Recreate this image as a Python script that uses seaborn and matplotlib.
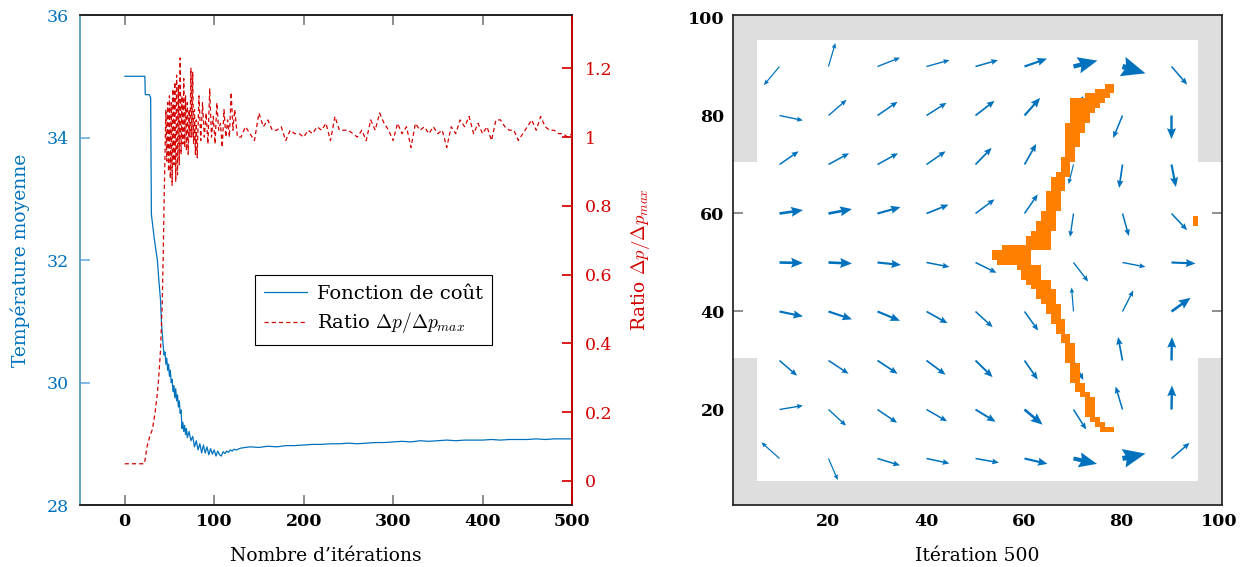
import matplotlib
matplotlib.use("Agg")
import numpy as np
import matplotlib.pyplot as plt
import seaborn as sns
from matplotlib.colors import ListedColormap

# ---------------- left panel: cost and ratio vs iterations
cost_iter = [0, 22.5, 23, 27.5, 29, 29.8, 31, 33, 35, 36.5, 38, 40, 41, 42, 43, 44, 45, 46, 47, 48,
             49, 50, 51, 52, 53, 54, 55, 56, 57, 58, 59, 60, 61, 62, 63, 64, 65, 66, 67, 68,
             69, 70, 72, 74, 76, 78, 80, 82, 84, 86, 88, 90, 92, 94, 96, 98, 100, 102, 104, 106,
             108, 110, 112, 114, 116, 118, 120, 122, 125, 128, 130, 140, 150, 160, 170, 180, 190, 200,
             210, 220, 230, 240, 250, 260, 270, 280, 290, 300, 310, 320, 330, 340, 350, 360, 370, 380,
             390, 400, 410, 420, 430, 440, 450, 460, 470, 480, 490, 500]
cost = [35.0, 35.0, 34.7, 34.7, 34.65, 32.75, 32.6, 32.35, 32.15, 32.0, 31.7, 31.35, 31.0, 30.8, 30.6,
        30.45, 30.5, 30.3, 30.4, 30.2, 30.3, 30.1, 30.2, 30.0, 30.05, 29.85, 29.95, 29.75, 29.9, 29.7,
        29.8, 29.6, 29.7, 29.5, 29.55, 29.25, 29.35, 29.2, 29.3, 29.15, 29.25, 29.1, 29.2, 29.05, 29.12,
        28.95, 29.05, 28.9, 29.0, 28.85, 28.98, 28.85, 28.95, 28.82, 28.92, 28.83, 28.9, 28.8, 28.88,
        28.82, 28.8, 28.87, 28.84, 28.88, 28.86, 28.9, 28.88, 28.91, 28.9, 28.92, 28.93, 28.95, 28.94,
        28.96, 28.95, 28.97, 28.97, 28.98, 28.99, 28.99, 29.0, 29.0, 29.01, 29.0, 29.01, 29.02, 29.02,
        29.03, 29.04, 29.03, 29.05, 29.04, 29.05, 29.06, 29.05, 29.06, 29.06, 29.06, 29.07, 29.06, 29.07,
        29.07, 29.07, 29.08, 29.07, 29.08, 29.08, 29.08]

ratio_iter = [0, 22, 25, 28, 31, 34, 36.5, 38, 40, 42, 43, 44, 45, 46, 47, 48, 49, 50, 51, 52, 53, 54,
              55, 56, 57, 58, 59, 60, 61, 62, 63, 64, 65, 66, 67, 68, 69, 70, 71, 72, 73, 74, 75, 76,
              77, 78, 79, 80, 81, 83, 85, 87, 89, 91, 93, 95, 97, 99, 101, 103, 105, 107, 109, 111,
              113, 115, 117, 119, 121, 123, 126, 130, 135, 140, 145, 150, 155, 160, 165, 170, 175, 180,
              185, 190, 195, 200, 205, 210, 215, 220, 225, 230, 235, 240, 245, 250, 255, 260, 265, 270,
              275, 280, 285, 290, 295, 300, 305, 310, 315, 320, 325, 330, 335, 340, 345, 350, 355, 360,
              365, 370, 375, 380, 385, 390, 395, 400, 405, 410, 415, 420, 425, 430, 435, 440, 445, 450,
              455, 460, 465, 470, 475, 480, 485, 490, 495, 500]
ratio = [0.05, 0.05, 0.10, 0.13, 0.15, 0.20, 0.255, 0.30, 0.38, 0.52, 0.65, 0.81, 0.95, 1.08, 0.93,
         1.10, 0.90, 1.12, 0.88, 1.10, 0.86, 1.14, 0.92, 1.16, 0.87, 1.18, 0.89, 1.15, 0.92, 1.23, 0.95,
         1.12, 0.98, 1.17, 0.97, 1.12, 0.96, 1.10, 0.95, 1.08, 1.00, 1.20, 1.00, 1.19, 0.98, 1.08, 0.95,
         1.05, 0.94, 1.12, 0.99, 1.10, 1.00, 1.07, 0.98, 1.14, 1.00, 1.06, 0.98, 1.10, 1.02, 1.04, 0.97,
         1.08, 1.00, 1.05, 1.00, 1.13, 1.02, 1.08, 1.00, 1.00, 1.03, 1.01, 0.99, 1.07, 1.03, 1.05, 1.02,
         1.02, 1.03, 0.99, 1.02, 1.01, 1.01, 1.00, 1.02, 1.01, 1.03, 1.02, 1.04, 0.99, 1.06, 1.02, 1.02,
         1.02, 1.01, 1.00, 1.02, 0.99, 1.05, 1.02, 1.07, 1.04, 1.02, 0.99, 1.04, 1.01, 1.03, 0.97, 1.04,
         1.02, 1.03, 1.01, 1.03, 1.01, 1.02, 0.97, 1.03, 1.01, 1.05, 1.03, 1.06, 1.01, 1.04, 1.01, 1.03,
         0.99, 1.05, 1.05, 1.03, 1.02, 1.02, 0.99, 1.01, 1.03, 1.05, 1.02, 1.06, 1.03, 1.02, 1.02, 1.01,
         1.01, 1.00, 1.01]

# ---------------- right panel: velocity field and interface at iteration 500
grid_x = [10, 20, 30, 40, 50, 60, 70, 80, 90]
grid_y = [10, 20, 30, 40, 50, 60, 70, 80, 90]
# rows go from y=10 (first) to y=90 (last)
U = [[-3.7, 1.9, 4.6, 4.7, 4.8, 4.7, 4.8, 4.7, 3.7],
     [4.8, 3.6, 4.0, 4.2, 4.1, 3.7, 2.6, -1.4, 0.1],
     [3.6, 4.1, 4.1, 3.9, 3.5, 2.7, 2.0, -0.9, 0.1],
     [4.8, 4.8, 4.6, 4.3, 3.5, 2.8, -0.4, 2.2, 3.9],
     [4.8, 4.8, 4.8, 4.7, 4.3, 3.0, 3.0, 4.7, 4.9],
     [4.8, 4.8, 4.7, 4.5, 3.9, 2.7, -0.7, 1.3, 3.2],
     [3.9, 4.2, 4.2, 3.9, 3.3, 2.4, -1.0, -0.7, 0.9],
     [4.8, 3.7, 4.1, 4.1, 3.9, 3.2, 2.0, -1.9, 0.0],
     [-3.2, 1.4, 4.6, 4.7, 4.6, 4.6, 4.9, 4.7, 3.2]]
V = [[3.3, -4.4, -1.4, -1.0, -0.85, -1.1, -1.1, 1.0, 3.2],
     [0.8, -3.3, -2.7, -2.4, -2.5, -3.1, -4.1, 4.7, 4.9],
     [-3.1, -2.7, -2.7, -2.9, -3.4, -3.9, -4.0, 4.8, 4.8],
     [-1.0, -1.6, -1.9, -2.4, -3.2, -3.9, 4.9, 4.3, 2.8],
     [-0.1, -0.2, -0.5, -0.9, -2.1, -2.0, -3.9, -0.9, -0.2],
     [0.7, 0.9, 1.3, 1.8, 2.9, 3.9, -4.8, -4.6, -3.4],
     [2.7, 2.3, 2.3, 2.7, 3.4, 4.2, -4.0, -4.8, -4.6],
     [-1.0, 3.2, 2.8, 2.6, 3.0, 3.6, 4.0, -4.6, -4.8],
     [-3.8, 4.8, 1.8, 1.3, 1.3, 1.6, 1.2, -1.4, -3.7]]
M = [[0.2, 0.2, 0.3, 0.3, 0.3, 0.45, 0.8, 0.95, 0.3],
     [0.25, 0.25, 0.3, 0.3, 0.4, 0.55, 0.3, 0.3, 0.5],
     [0.3, 0.3, 0.35, 0.35, 0.4, 0.35, 0.3, 0.35, 0.5],
     [0.45, 0.45, 0.45, 0.35, 0.3, 0.3, 0.2, 0.25, 0.55],
     [0.55, 0.55, 0.45, 0.3, 0.3, 0.2, 0.25, 0.25, 0.45],
     [0.55, 0.55, 0.45, 0.35, 0.3, 0.3, 0.25, 0.3, 0.3],
     [0.3, 0.3, 0.3, 0.3, 0.35, 0.35, 0.2, 0.35, 0.45],
     [0.25, 0.25, 0.3, 0.3, 0.35, 0.45, 0.1, 0.3, 0.5],
     [0.2, 0.2, 0.25, 0.25, 0.3, 0.45, 0.85, 1.0, 0.3]]

# interface cells: row, first column, last column
orange_row = [86, 85, 84, 83, 82, 81, 80, 79, 78, 77, 76, 75, 74, 73, 72, 71, 70, 69, 68, 67, 66, 65,
              64, 63, 62, 61, 60, 59, 58, 57, 56, 55, 54, 53, 52, 51, 50, 49, 48, 47, 46, 45, 44, 43,
              42, 41, 40, 39, 38, 37, 36, 35, 34, 33, 32, 31, 30, 29, 28, 27, 26, 25, 24, 23, 22, 21,
              20, 19, 18, 17, 16, 59, 58]
orange_c0 = [77, 75, 73, 70, 70, 70, 70, 70, 69, 69, 69, 69, 69, 69, 69, 68, 68, 68, 67, 66, 66, 66,
             65, 65, 65, 65, 64, 64, 63, 63, 62, 61, 61, 56, 54, 54, 55, 59, 60, 60, 61, 62, 63, 63,
             64, 65, 65, 66, 66, 67, 67, 68, 68, 69, 69, 69, 69, 70, 70, 70, 70, 71, 71, 72, 73, 73,
             73, 73, 74, 75, 76, 95, 95]
orange_c1 = [78, 78, 77, 76, 75, 74, 73, 73, 72, 72, 71, 71, 71, 70, 70, 70, 69, 69, 69, 68, 68, 68,
             67, 67, 67, 67, 66, 66, 66, 66, 65, 65, 65, 65, 61, 61, 61, 63, 63, 63, 65, 65, 66, 66,
             66, 67, 67, 67, 68, 68, 68, 69, 69, 70, 70, 70, 70, 71, 71, 71, 71, 72, 72, 73, 74, 74,
             74, 74, 75, 76, 78, 95, 95]

wall_thickness = 5
opening_rows = (31, 70)

blue = "#0072BD"
light_blue = "#6FB1E0"
red = "#D40000"
orange = "#FF8000"
grey = "#DEDEDE"

sns.set_theme(style="ticks")
plt.rcParams["font.family"] = ["DejaVu Serif"]
plt.rcParams["mathtext.fontset"] = "cm"
plt.rcParams["lines.scale_dashes"] = False
plt.rcParams["text.color"] = "black"
plt.rcParams["axes.labelcolor"] = "black"
plt.rcParams["xtick.labelcolor"] = "black"
plt.rcParams["ytick.labelcolor"] = "black"

fig = plt.figure(figsize=(12.44, 5.67), dpi=100)
ax = fig.add_axes([0.0643, 0.1093, 0.3955, 0.8642])
ax2 = ax.twinx()

sns.lineplot(x=cost_iter, y=cost, ax=ax, color=blue, linewidth=0.9, sort=False)
sns.lineplot(x=ratio_iter, y=ratio, ax=ax2, color=red, linewidth=0.9, sort=False)
ax2.get_lines()[0].set_dashes((3, 2.2))

ax.set_xlim(-50, 500)
ax.set_ylim(28, 36)
ax2.set_ylim(-0.07, 1.355)
ax.set_xticks([0, 100, 200, 300, 400, 500])
ax.set_yticks([28, 30, 32, 34, 36])
ax2.set_yticks([0, 0.2, 0.4, 0.6, 0.8, 1.0, 1.2])
ax2.set_yticklabels(["0", "0.2", "0.4", "0.6", "0.8", "1", "1.2"])

ax.tick_params(axis="x", direction="in", length=7, color="#808080", top=True,
               labelsize=12.5, pad=6, labelcolor="black")
ax.tick_params(axis="y", direction="in", length=7, color=light_blue, labelcolor=blue,
               labelsize=12.5, pad=8)
ax2.tick_params(axis="y", direction="in", length=7, color=red, labelcolor=red,
                labelsize=12.5, pad=9)
for lab in ax.get_xticklabels():
    lab.set_fontweight("bold")
ax2.spines["left"].set_color(light_blue)
ax2.spines["right"].set_color(red)
for sp in ["top", "bottom"]:
    ax2.spines[sp].set_color("#222222")

ax.set_xlabel("Nombre d\u2019it\u00e9rations", fontsize=13.5, labelpad=12)
ax.set_ylabel("Temp\u00e9rature moyenne", fontsize=13.5, color=blue, labelpad=12)
ax2.set_ylabel(r"Ratio $\Delta p/\Delta p_{max}$", fontsize=13.5, color=red, labelpad=12)

leg = ax2.legend(handles=[ax.get_lines()[0], ax2.get_lines()[0]],
                 labels=["Fonction de co\u00fbt", r"Ratio $\Delta p/\Delta p_{max}$"],
                 loc="center", bbox_to_anchor=(0.5966, 0.398), fontsize=14, frameon=True,
                 fancybox=False, framealpha=1, edgecolor="black", handlelength=2.2,
                 handletextpad=0.5, borderpad=0.5, labelspacing=0.4)
leg.get_frame().set_linewidth(0.8)

# ---------------- right panel
axr = fig.add_axes([0.5892, 0.1093, 0.3931, 0.8642])
n = 100
walls = np.zeros((n, n))
walls[:wall_thickness, :] = 1
walls[-wall_thickness:, :] = 1
side = np.ones(n, dtype=bool)
side[opening_rows[0] - 1:opening_rows[1]] = False
walls[side, :wall_thickness] = 1
walls[side, -wall_thickness:] = 1

fluid = np.zeros((n, n))
for r, c0, c1 in zip(orange_row, orange_c0, orange_c1):
    fluid[r - 1, c0 - 1:c1] = 1

edges = np.arange(0.5, n + 1, 1.0)
axr.pcolormesh(edges, edges, np.ma.masked_equal(walls, 0), cmap=ListedColormap([grey]),
               zorder=1)
axr.pcolormesh(edges, edges, np.ma.masked_equal(fluid, 0), cmap=ListedColormap([orange]),
               zorder=3)

ax_w = 0.3931 * 1244
for j, yy in enumerate(grid_y):
    for i, xx in enumerate(grid_x):
        w_px = 0.8 + 4.5 * M[j][i] ** 1.5
        axr.quiver(xx, yy, U[j][i], V[j][i], angles="xy", scale_units="xy", scale=1,
                   width=w_px / ax_w, headwidth=3.8, headlength=4.5, headaxislength=4.0,
                   color=blue, zorder=2)

axr.set_xlim(0.5, 100.5)
axr.set_ylim(0.5, 100.5)
axr.set_xticks([20, 40, 60, 80, 100])
axr.set_yticks([20, 40, 60, 80, 100])
axr.tick_params(direction="in", length=7, color="#808080", top=True, right=True,
                labelsize=12.5, pad=6, labelcolor="black")
for lab in axr.get_xticklabels() + axr.get_yticklabels():
    lab.set_fontweight("bold")
for sp in axr.spines.values():
    sp.set_color("#222222")
axr.set_xlabel("It\u00e9ration 500", fontsize=13.5, labelpad=12)

fig.savefig("out.png", dpi=100)
